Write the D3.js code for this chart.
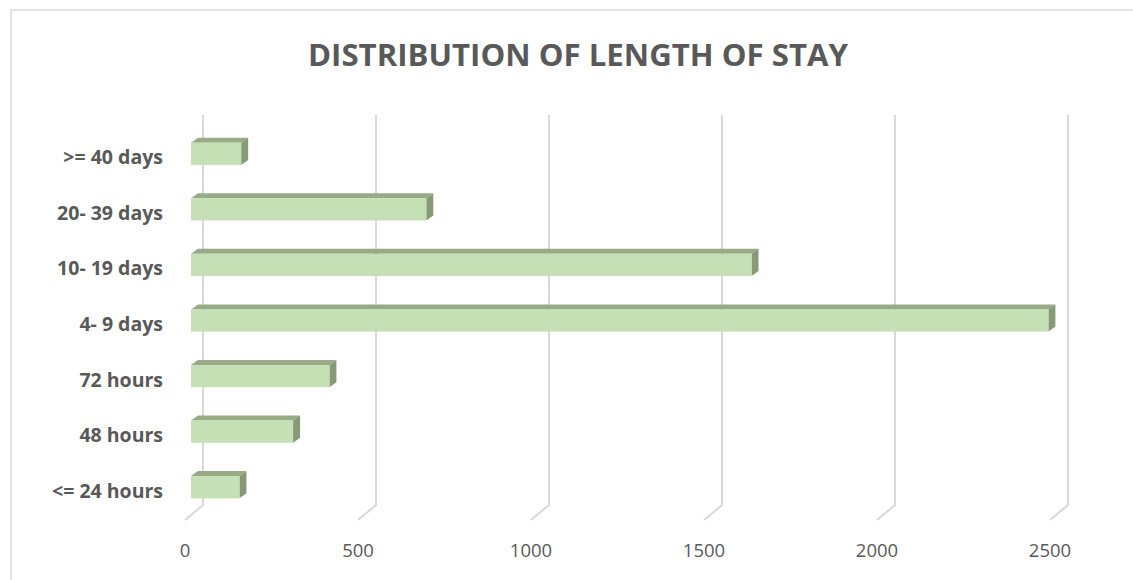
<!DOCTYPE html>
<html>
<head>
<meta charset="utf-8">
<script src="https://cdn.jsdelivr.net/npm/d3@7"></script>
<style>
  body { margin: 0; background: #fff; }
  text { font-family: "Open Sans", "Liberation Sans", sans-serif; fill: #595959; }
</style>
</head>
<body>
<div class="los_chart"></div>
<script>
// data (top to bottom)
const categories = [">= 40 days", "20- 39 days", "10- 19 days", "4- 9 days", "72 hours", "48 hours", "<= 24 hours"];
const stays = [145, 680, 1620, 2478, 400, 295, 140];
const ticks = [0, 500, 1000, 1500, 2000, 2500];

const w = 1133, h = 580;
const depthX = 7, depthY = -5;   // bar depth offset
const floorDX = -18, floorDY = 15; // floor lines going to the front

const svg = d3.select(".los_chart")
    .append("svg")
    .attr("width", w)
    .attr("height", h);

// chart border
svg.append("rect")
    .attr("x", 11).attr("y", 10)
    .attr("width", w + 10).attr("height", h + 10)
    .attr("fill", "none")
    .attr("stroke", "#d9d9d9")
    .attr("stroke-width", 1.5);

// title
svg.append("text")
    .attr("x", 578).attr("y", 66)
    .attr("text-anchor", "middle")
    .attr("font-size", 30)
    .attr("font-weight", "bold")
    .attr("textLength", 540)
    .attr("lengthAdjust", "spacingAndGlyphs")
    .text("DISTRIBUTION OF LENGTH OF STAY");

// scales
const xBack = d3.scaleLinear().domain([0, 2500]).range([203, 1068]);
const xBar = d3.scaleLinear().domain([0, 2500]).range([191, 1056]);
const y = d3.scaleBand().domain(categories).range([126, 515]).paddingInner(0.6).paddingOuter(0.3);

const wallTop = 115, wallBottom = 505;

// gridlines: back wall + floor
const grid = svg.append("g").attr("stroke", "#d9d9d9").attr("stroke-width", 2).attr("fill", "none");
grid.selectAll("path")
    .data(ticks)
    .enter()
    .append("path")
    .attr("d", function (d) {
        const x = xBack(d);
        return "M" + x + "," + wallTop + "V" + wallBottom + "l" + floorDX + "," + floorDY;
    });

// tick labels
svg.append("g").selectAll("text")
    .data(ticks)
    .enter()
    .append("text")
    .attr("x", function (d) { return xBack(d) + floorDX; })
    .attr("y", 557)
    .attr("text-anchor", "middle")
    .attr("font-size", 18.5)
    .text(function (d) { return d; });

// bars
const bars = svg.append("g").selectAll("g")
    .data(categories)
    .enter()
    .append("g");

bars.append("path") // top face
    .attr("fill", "#97ab87")
    .attr("d", function (d, i) {
        const x0 = xBar(0), x1 = xBar(stays[i]), t = y(d);
        return "M" + x0 + "," + t + "L" + (x0 + depthX) + "," + (t + depthY) +
            "L" + (x1 + depthX) + "," + (t + depthY) + "L" + x1 + "," + t + "Z";
    });

bars.append("path") // side face
    .attr("fill", "#869a76")
    .attr("d", function (d, i) {
        const x1 = xBar(stays[i]), t = y(d), b = t + y.bandwidth();
        return "M" + x1 + "," + t + "L" + (x1 + depthX) + "," + (t + depthY) +
            "L" + (x1 + depthX) + "," + (b + depthY) + "L" + x1 + "," + b + "Z";
    });

bars.append("rect") // front face
    .attr("fill", "#c5e0b4")
    .attr("x", xBar(0))
    .attr("y", function (d) { return y(d); })
    .attr("width", function (d, i) { return xBar(stays[i]) - xBar(0); })
    .attr("height", y.bandwidth());

// category labels
svg.append("g").selectAll("text")
    .data(categories)
    .enter()
    .append("text")
    .attr("x", 163)
    .attr("y", function (d) { return y(d) + y.bandwidth() / 2 + 3; })
    .attr("dominant-baseline", "central")
    .attr("text-anchor", "end")
    .attr("font-size", 19.5)
    .attr("font-weight", "bold")
    .text(function (d) { return d; });
</script>
</body>
</html>
